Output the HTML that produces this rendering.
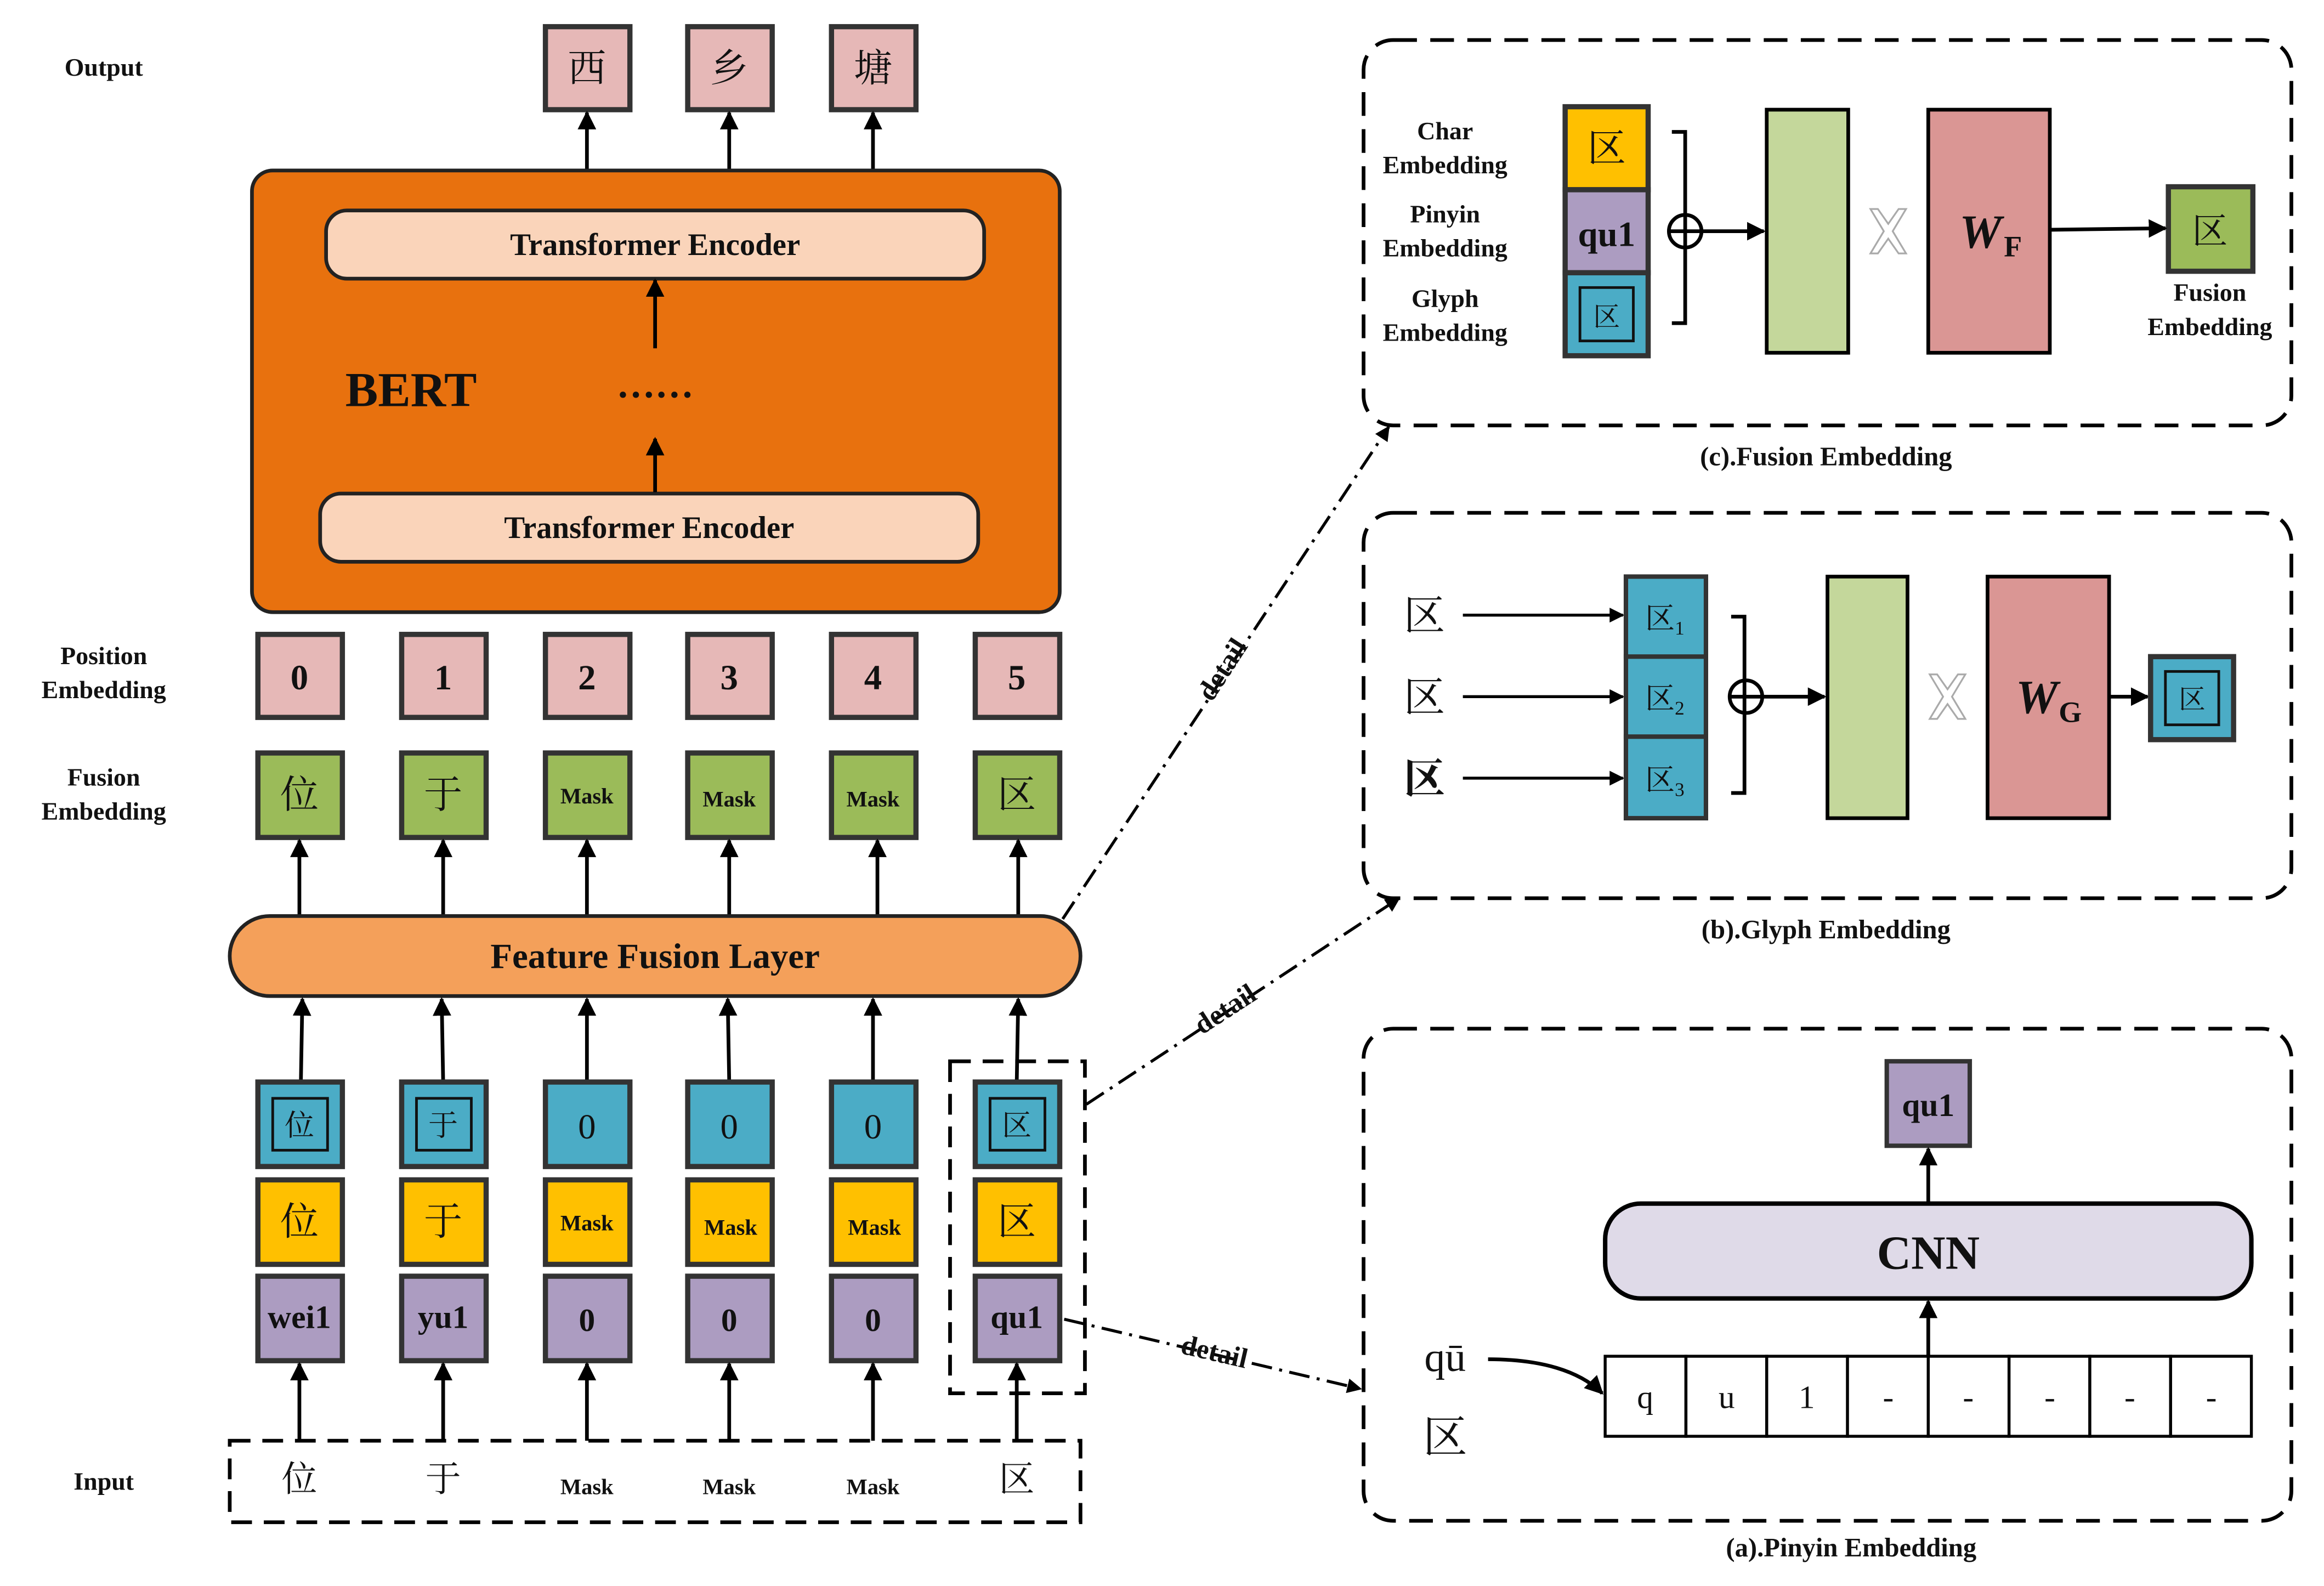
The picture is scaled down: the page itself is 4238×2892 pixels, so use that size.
<!DOCTYPE html>
<html><head><meta charset="utf-8"><style>
html,body{margin:0;padding:0;background:#fff}
svg{display:block}
text{font-family:"Liberation Serif","Noto Serif CJK SC",serif;fill:#111}
.b{font-weight:bold}
</style></head><body>
<svg width="4238" height="2892" viewBox="0 0 1568 1070" xmlns="http://www.w3.org/2000/svg">
<defs>
<marker id="ah" viewBox="0 0 10 10" refX="9" refY="5" markerWidth="5" markerHeight="5" orient="auto"><path d="M0,0 L10,5 L0,10 z" fill="#000"/></marker>
<path id="xx" d="M-12,-15 L-7,-15 L0,-5 L7,-15 L12,-15 L3,0 L12,15 L7,15 L0,5 L-7,15 L-12,15 L-3,0 z" fill="#fff" stroke="#aaa" stroke-width="1.2"/>
</defs>
<rect width="1568" height="1070" fill="#fff"/>

<g class="b" font-size="17" text-anchor="middle">
<text x="70" y="51" class="b">Output</text>
<text x="70" y="448" class="b">Position</text><text x="70" y="471" class="b">Embedding</text>
<text x="70" y="530" class="b">Fusion</text><text x="70" y="553" class="b">Embedding</text>
<text x="70" y="1005" class="b">Input</text>
</g>

<g stroke="#333" stroke-width="3.5" fill="#E6B8B7">
<rect x="368" y="18" width="57" height="56"/><rect x="464" y="18" width="57" height="56"/><rect x="561" y="18" width="57" height="56"/>
</g>
<g font-size="26" text-anchor="middle"><text x="396" y="55">西</text><text x="492" y="55">乡</text><text x="589" y="55">塘</text></g>
<g stroke="#000" stroke-width="2.5" marker-end="url(#ah)">
<line x1="396" y1="115" x2="396" y2="76"/><line x1="492" y1="115" x2="492" y2="76"/><line x1="589" y1="115" x2="589" y2="76"/>
</g>

<rect x="170" y="115" width="545" height="298" rx="14" fill="#E8710E" stroke="#222" stroke-width="2.5"/>
<rect x="220" y="142" width="444" height="46" rx="14" fill="#FAD4BA" stroke="#222" stroke-width="2.5"/>
<rect x="216" y="333" width="444" height="46" rx="14" fill="#FAD4BA" stroke="#222" stroke-width="2.5"/>
<text x="442" y="172" font-size="21" text-anchor="middle" class="b">Transformer Encoder</text>
<text x="438" y="363" font-size="21" text-anchor="middle" class="b">Transformer Encoder</text>
<text x="233" y="274" font-size="33" class="b">BERT</text>
<text x="442" y="268" font-size="26" text-anchor="middle" class="b">……</text>
<g stroke="#000" stroke-width="2.5" marker-end="url(#ah)">
<line x1="442" y1="235" x2="442" y2="189"/><line x1="442" y1="332" x2="442" y2="296"/>
</g>

<g stroke="#333" stroke-width="3.5" fill="#E6B8B7">
<rect x="174" y="428" width="57" height="56"/><rect x="271" y="428" width="57" height="56"/><rect x="368" y="428" width="57" height="56"/><rect x="464" y="428" width="57" height="56"/><rect x="561" y="428" width="57" height="56"/><rect x="658" y="428" width="57" height="56"/>
</g>
<g font-size="24" text-anchor="middle" class="b"><text x="202" y="465">0</text><text x="299" y="465">1</text><text x="396" y="465">2</text><text x="492" y="465">3</text><text x="589" y="465">4</text><text x="686" y="465">5</text></g>

<g stroke="#333" stroke-width="3.5" fill="#9BBB59">
<rect x="174" y="508" width="57" height="57"/><rect x="271" y="508" width="57" height="57"/><rect x="368" y="508" width="57" height="57"/><rect x="464" y="508" width="57" height="57"/><rect x="561" y="508" width="57" height="57"/><rect x="658" y="508" width="57" height="57"/>
</g>
<g text-anchor="middle"><text x="202" y="545" font-size="26">位</text><text x="299" y="545" font-size="26">于</text>
<text x="396" y="542" font-size="15" class="b">Mask</text><text x="492" y="544" font-size="15" class="b">Mask</text><text x="589" y="544" font-size="15" class="b">Mask</text><text x="686" y="545" font-size="26">区</text></g>
<g stroke="#000" stroke-width="2.5" marker-end="url(#ah)">
<line x1="202" y1="618" x2="202" y2="567"/><line x1="299" y1="618" x2="299" y2="567"/><line x1="396" y1="618" x2="396" y2="567"/><line x1="492" y1="618" x2="492" y2="567"/><line x1="592" y1="618" x2="592" y2="567"/><line x1="687" y1="618" x2="687" y2="567"/>
</g>

<rect x="155" y="618" width="574" height="54" rx="27" fill="#F4A05A" stroke="#222" stroke-width="2.5"/>
<text x="442" y="653" font-size="24" text-anchor="middle" class="b">Feature Fusion Layer</text>
<g stroke="#000" stroke-width="2.5" marker-end="url(#ah)">
<line x1="203" y1="730" x2="204" y2="674"/><line x1="299" y1="730" x2="298" y2="674"/><line x1="396" y1="730" x2="396" y2="674"/><line x1="492" y1="730" x2="491" y2="674"/><line x1="589" y1="730" x2="589" y2="674"/><line x1="686" y1="730" x2="687" y2="674"/>
</g>

<g stroke="#333" stroke-width="3.5" fill="#4BACC6">
<rect x="174" y="730" width="57" height="57"/><rect x="271" y="730" width="57" height="57"/><rect x="368" y="730" width="57" height="57"/><rect x="464" y="730" width="57" height="57"/><rect x="561" y="730" width="57" height="57"/><rect x="658" y="730" width="57" height="57"/>
</g>
<g fill="none" stroke="#111" stroke-width="1.8">
<rect x="184" y="741" width="37" height="35"/><rect x="281" y="741" width="37" height="35"/><rect x="668" y="741" width="37" height="35"/>
</g>
<g text-anchor="middle"><text x="202" y="766" font-size="20">位</text><text x="299" y="766" font-size="20">于</text>
<text x="396" y="768" font-size="24">0</text><text x="492" y="768" font-size="24">0</text><text x="589" y="768" font-size="24">0</text><text x="686" y="766" font-size="20">区</text></g>

<g stroke="#333" stroke-width="3.5" fill="#FFC000">
<rect x="174" y="796" width="57" height="57"/><rect x="271" y="796" width="57" height="57"/><rect x="368" y="796" width="57" height="57"/><rect x="464" y="796" width="57" height="57"/><rect x="561" y="796" width="57" height="57"/><rect x="658" y="796" width="57" height="57"/>
</g>
<g text-anchor="middle"><text x="202" y="833" font-size="26">位</text><text x="299" y="833" font-size="26">于</text>
<text x="396" y="830" font-size="15" class="b">Mask</text><text x="493" y="833" font-size="15" class="b">Mask</text><text x="590" y="833" font-size="15" class="b">Mask</text><text x="686" y="833" font-size="26">区</text></g>

<g stroke="#333" stroke-width="3.5" fill="#AC9CC1">
<rect x="174" y="861" width="57" height="57"/><rect x="271" y="861" width="57" height="57"/><rect x="368" y="861" width="57" height="57"/><rect x="464" y="861" width="57" height="57"/><rect x="561" y="861" width="57" height="57"/><rect x="658" y="861" width="57" height="57"/>
</g>
<g text-anchor="middle" class="b" font-size="22"><text x="202" y="896">wei1</text><text x="299" y="896">yu1</text>
<text x="396" y="898">0</text><text x="492" y="898">0</text><text x="589" y="898">0</text><text x="686" y="896">qu1</text></g>

<g stroke="#000" stroke-width="2.5" marker-end="url(#ah)">
<line x1="202" y1="972" x2="202" y2="920"/><line x1="299" y1="972" x2="299" y2="920"/><line x1="396" y1="972" x2="396" y2="920"/><line x1="492" y1="972" x2="492" y2="920"/><line x1="589" y1="972" x2="589" y2="920"/><line x1="686" y1="972" x2="686" y2="920"/>
</g>

<rect x="155" y="972" width="574" height="55" fill="none" stroke="#000" stroke-width="2.5" stroke-dasharray="14,8"/>
<g text-anchor="middle"><text x="202" y="1006" font-size="24">位</text><text x="299" y="1006" font-size="24">于</text>
<text x="396" y="1008" font-size="15" class="b">Mask</text><text x="492" y="1008" font-size="15" class="b">Mask</text><text x="589" y="1008" font-size="15" class="b">Mask</text><text x="686" y="1006" font-size="24">区</text></g>

<rect x="641" y="716" width="91" height="224" fill="none" stroke="#000" stroke-width="2.5" stroke-dasharray="14,8"/>

<g stroke="#000" stroke-width="2" stroke-dasharray="14,5,2,5" fill="none" marker-end="url(#ah)">
<line x1="717" y1="620" x2="937" y2="288"/>
<line x1="733" y1="745" x2="944" y2="606"/>
<line x1="718" y1="890" x2="918" y2="937"/>
</g>
<text x="830" y="455" font-size="19" class="b" text-anchor="middle" transform="rotate(-57 830 455)">detail</text>
<text x="830" y="686" font-size="19" class="b" text-anchor="middle" transform="rotate(-33 830 686)">detail</text>
<text x="818" y="918" font-size="19" class="b" text-anchor="middle" transform="rotate(13 818 918)">detail</text>

<g fill="none" stroke="#000" stroke-width="2.5" stroke-dasharray="16,9">
<rect x="920" y="27" width="626" height="260" rx="20"/>
<rect x="920" y="346" width="626" height="260" rx="20"/>
<rect x="920" y="694" width="626" height="332" rx="20"/>
</g>
<g class="b" font-size="18" text-anchor="middle">
<text x="1232" y="314">(c).Fusion Embedding</text>
<text x="1232" y="633">(b).Glyph Embedding</text>
<text x="1249" y="1050">(a).Pinyin Embedding</text>
</g>

<g class="b" font-size="17" text-anchor="middle">
<text x="975" y="94">Char</text><text x="975" y="117">Embedding</text>
<text x="975" y="150">Pinyin</text><text x="975" y="173">Embedding</text>
<text x="975" y="207">Glyph</text><text x="975" y="230">Embedding</text>
<text x="1491" y="203">Fusion</text><text x="1491" y="226">Embedding</text>
</g>
<g stroke="#333" stroke-width="3.5">
<rect x="1056" y="72" width="56" height="56" fill="#FFC000"/>
<rect x="1056" y="128" width="56" height="56" fill="#AC9CC1"/>
<rect x="1056" y="184" width="56" height="56" fill="#4BACC6"/>
<rect x="1463" y="126" width="57" height="57" fill="#9BBB59"/>
</g>
<rect x="1066" y="194" width="36" height="36" fill="none" stroke="#111" stroke-width="1.8"/>
<g text-anchor="middle"><text x="1084" y="109" font-size="26">区</text><text x="1084" y="166" font-size="24" class="b">qu1</text><text x="1084" y="220" font-size="18">区</text><text x="1491" y="164" font-size="24">区</text></g>
<path d="M1128,89 H1137 V218 H1128" fill="none" stroke="#000" stroke-width="2.5"/>
<circle cx="1137" cy="156" r="11" fill="none" stroke="#000" stroke-width="2.5"/>
<line x1="1126" y1="156" x2="1190" y2="156" stroke="#000" stroke-width="2.5" marker-end="url(#ah)"/>
<rect x="1192" y="74" width="55" height="164" fill="#C4D79B" stroke="#000" stroke-width="2.5"/>
<use href="#xx" x="1274" y="156"/>
<rect x="1301" y="74" width="82" height="164" fill="#DA9694" stroke="#000" stroke-width="2.5"/>
<text x="1322" y="167" font-size="32" font-style="italic" class="b">W</text><text x="1352" y="173" font-size="20" class="b">F</text>
<line x1="1384" y1="155" x2="1461" y2="154" stroke="#000" stroke-width="2.5" marker-end="url(#ah)"/>

<g text-anchor="middle" font-size="28"><text x="961" y="425">区</text><text x="961" y="480">区</text><text x="961" y="535" class="b">区</text></g>
<g stroke="#000" stroke-width="2" marker-end="url(#ah)">
<line x1="987" y1="415" x2="1095" y2="415"/><line x1="987" y1="470" x2="1095" y2="470"/><line x1="987" y1="525" x2="1095" y2="525"/>
</g>
<g stroke="#333" stroke-width="3" fill="#4BACC6">
<rect x="1097" y="389" width="54" height="54"/><rect x="1097" y="443" width="54" height="54"/><rect x="1097" y="497" width="54" height="55"/>
</g>
<g font-size="20"><text x="1110" y="424">区<tspan font-size="13" dy="4">1</tspan></text><text x="1110" y="478">区<tspan font-size="13" dy="4">2</tspan></text><text x="1110" y="533">区<tspan font-size="13" dy="4">3</tspan></text></g>
<path d="M1168,416 H1177 V535 H1168" fill="none" stroke="#000" stroke-width="2.5"/>
<circle cx="1178" cy="470" r="11" fill="none" stroke="#000" stroke-width="2.5"/>
<line x1="1167" y1="470" x2="1231" y2="470" stroke="#000" stroke-width="2.5" marker-end="url(#ah)"/>
<rect x="1233" y="389" width="54" height="163" fill="#C4D79B" stroke="#000" stroke-width="2.5"/>
<use href="#xx" x="1314" y="470"/>
<rect x="1341" y="389" width="82" height="163" fill="#DA9694" stroke="#000" stroke-width="2.5"/>
<text x="1360" y="481" font-size="32" font-style="italic" class="b">W</text><text x="1389" y="487" font-size="20" class="b">G</text>
<line x1="1424" y1="470" x2="1449" y2="470" stroke="#000" stroke-width="2.5" marker-end="url(#ah)"/>
<rect x="1451" y="443" width="56" height="56" fill="#4BACC6" stroke="#333" stroke-width="3.5"/>
<rect x="1461" y="453" width="36" height="36" fill="none" stroke="#111" stroke-width="1.8"/>
<text x="1479" y="478" font-size="18" text-anchor="middle">区</text>

<rect x="1273" y="716" width="56" height="57" fill="#AC9CC1" stroke="#333" stroke-width="3"/>
<text x="1301" y="753" font-size="22" class="b" text-anchor="middle">qu1</text>
<line x1="1301" y1="812" x2="1301" y2="775" stroke="#000" stroke-width="2.5" marker-end="url(#ah)"/>
<rect x="1083" y="812" width="436" height="64" rx="24" fill="#DFDAE8" stroke="#000" stroke-width="3"/>
<text x="1301" y="856" font-size="32" class="b" text-anchor="middle">CNN</text>
<line x1="1301" y1="915" x2="1301" y2="878" stroke="#000" stroke-width="2.5" marker-end="url(#ah)"/>
<g fill="#fff" stroke="#000" stroke-width="2">
<rect x="1083" y="915" width="54.5" height="54"/><rect x="1137.5" y="915" width="54.5" height="54"/><rect x="1192" y="915" width="54.5" height="54"/><rect x="1246.5" y="915" width="54.5" height="54"/><rect x="1301" y="915" width="54.5" height="54"/><rect x="1355.5" y="915" width="54.5" height="54"/><rect x="1410" y="915" width="54.5" height="54"/><rect x="1464.5" y="915" width="54.5" height="54"/>
</g>
<g font-size="22" text-anchor="middle"><text x="1110" y="950">q</text><text x="1165" y="950">u</text><text x="1219" y="950">1</text><text x="1274" y="950">-</text><text x="1328" y="950">-</text><text x="1383" y="950">-</text><text x="1437" y="950">-</text><text x="1492" y="950">-</text></g>
<text x="975" y="925" font-size="28" text-anchor="middle">qū</text>
<text x="975" y="980" font-size="30" text-anchor="middle">区</text>
<path d="M1004,917 C1040,917 1066,925 1081,940" fill="none" stroke="#000" stroke-width="2.5" marker-end="url(#ah)"/>
</svg>
</body></html>
